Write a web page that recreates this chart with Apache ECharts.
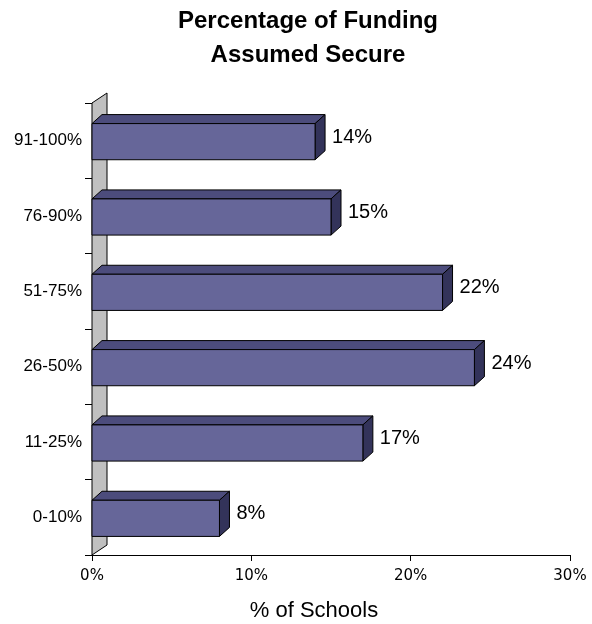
<!DOCTYPE html>
<html>
<head>
<meta charset="utf-8">
<script src="https://cdn.jsdelivr.net/npm/echarts@6/dist/echarts.min.js"></script>
<style>html,body{margin:0;padding:0;background:#fff}#c{width:592px;height:624px}</style>
</head>
<body>
<div id="c"></div>
<script>
const categories = ['0-10%', '11-25%', '26-50%', '51-75%', '76-90%', '91-100%'];
const values = [8, 17, 24, 22, 15, 14];
const xTicks = [0, 10, 20, 30];
const titleText = 'Percentage of Funding\nAssumed Secure';
const axisName = '% of Schools';

const chart = echarts.init(document.getElementById('c'));
const DX = 10, DY = 9;
const WX = 15, WY = 10;

function renderBar(params, api) {
  const c = api.value(0);
  const v = api.value(1);
  const s = api.coord([0, c]);
  const e = api.coord([v, c]);
  const band = api.size([0, 1])[1];
  const h = band * 0.48;
  const x0 = s[0], x1 = e[0];
  const y0 = s[1] - h / 2 + 1, y1 = y0 + h;
  const st = {stroke: '#000', lineWidth: 1};
  return {
    type: 'group',
    children: [
      {type: 'polygon', shape: {points: [[x0, y0], [x0 + DX, y0 - DY], [x1 + DX, y0 - DY], [x1, y0]]}, style: Object.assign({fill: '#4c4c7c'}, st)},
      {type: 'polygon', shape: {points: [[x1, y0], [x1 + DX, y0 - DY], [x1 + DX, y1 - DY], [x1, y1]]}, style: Object.assign({fill: '#33335a'}, st)},
      {type: 'rect', shape: {x: x0, y: y0, width: x1 - x0, height: h}, style: Object.assign({fill: '#666699'}, st)},
      {type: 'text', style: {text: v + '%', x: x1 + DX + 7, y: s[1] - DY / 2 + 1, textAlign: 'left', textVerticalAlign: 'middle', fill: '#000', font: '20px "Liberation Sans", Arial, sans-serif'}}
    ]
  };
}

function renderWall(params, api) {
  const band = api.size([0, 1])[1];
  const b = api.coord([0, 0]);
  const t = api.coord([0, categories.length - 1]);
  const x = b[0];
  const bottom = b[1] + band / 2;
  const top = t[1] - band / 2;
  return {
    type: 'polygon',
    shape: {points: [[x, top], [x + WX, top - WY], [x + WX, bottom - WY], [x, bottom]]},
    style: {fill: '#c0c0c0', stroke: '#000', lineWidth: 1}
  };
}

chart.setOption({
  animation: false,
  grid: {left: 92, right: 22, top: 103, bottom: 69, containLabel: false, outerBoundsMode: 'none'},
  graphic: [{
    type: 'text',
    style: {text: titleText, x: 308, y: 38, textAlign: 'center', textVerticalAlign: 'middle', font: 'bold 24px "Liberation Sans", Arial, sans-serif', lineHeight: 34, fill: '#000'}
  }],
  xAxis: {
    type: 'value', min: xTicks[0], max: xTicks[xTicks.length - 1], interval: 10,
    name: axisName, nameLocation: 'middle', nameGap: 45,
    nameTextStyle: {fontFamily: '"Liberation Sans", Arial, sans-serif', fontSize: 22, color: '#000', padding: [0, 34, 0, 0]},
    axisLine: {show: true, lineStyle: {color: '#000', width: 1}},
    axisTick: {show: true, length: 6, lineStyle: {color: '#000'}},
    axisLabel: {formatter: '{value}%', margin: 14, fontFamily: '"DejaVu Sans", sans-serif', fontSize: 15, color: '#000'},
    splitLine: {show: false}
  },
  yAxis: {
    type: 'category', data: categories,
    axisLine: {show: true, lineStyle: {color: '#000', width: 1}},
    axisTick: {show: true, length: 7, lineStyle: {color: '#000'}},
    axisLabel: {margin: 10, fontFamily: '"Liberation Sans", Arial, sans-serif', fontSize: 17, color: '#000'},
    splitLine: {show: false}
  },
  series: [
    {type: 'custom', renderItem: renderWall, data: [[0, 0]], encode: {x: 0, y: 1}, z: 1, silent: true},
    {type: 'custom', renderItem: renderBar, data: values.map((v, i) => [i, v]), encode: {y: 0, x: 1}, z: 2}
  ]
});
</script>
</body>
</html>
